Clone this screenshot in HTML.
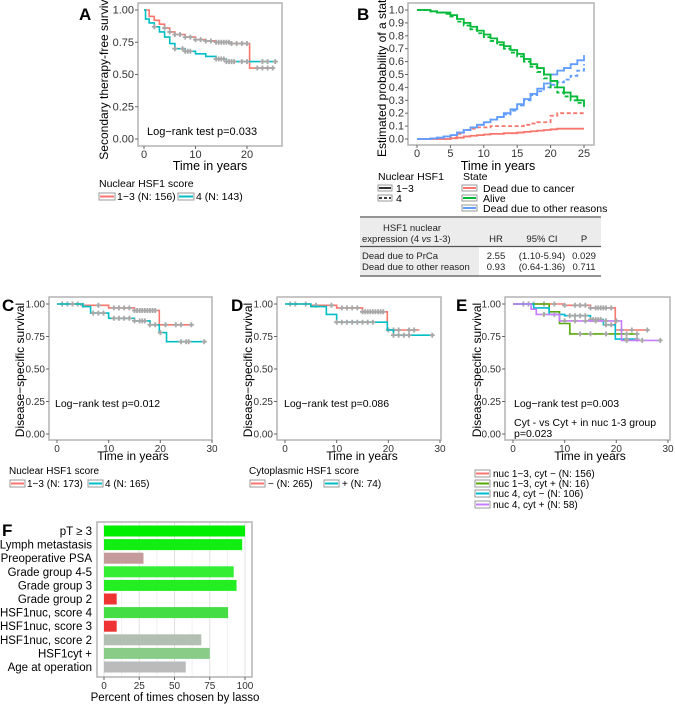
<!DOCTYPE html>
<html><head><meta charset="utf-8">
<style>
body{margin:0;background:#fff;}
svg{display:block;font-family:"Liberation Sans",Arial,sans-serif;}
</style></head>
<body>
<svg id="fig" width="675" height="704" viewBox="0 0 675 704" xmlns="http://www.w3.org/2000/svg"></svg>
<script>
// ---------- DATA ----------
// Panel A
const aRedT=[0,1,2,3,4,5,6,8,10,12,14,17,20.5], aRedS=[1,0.95,0.92,0.89,0.86,0.83,0.81,0.79,0.77,0.76,0.75,0.74,0.55];
const aRedEnd=25, aRedCens=[4,5,6,7,8,9,10,11,12,13,14,14.5,15,15.5,16,16.5,17,18,19,20,22,23,24,25];
const aCyanT=[0,0.3,1,2,3,4,5,6,8,10,12,14,16], aCyanS=[1,0.93,0.9,0.87,0.83,0.79,0.74,0.70,0.68,0.66,0.64,0.62,0.60];
const aCyanEnd=25.5, aCyanCens=[2,6,7.5,8,8.5,9,14,14.5,15,15.5,16,16.5,17,17.5,19,20,23,24,25.5];
// Panel B (yearly values)
const bTimes=[0,1,2,3,4,5,6,7,8,9,10,11,12,13,14,15,16,17,18,19,20,21,22,23,24,25];
const bAliveSolid=[1,1,0.99,0.98,0.98,0.96,0.93,0.90,0.87,0.84,0.81,0.78,0.75,0.72,0.69,0.66,0.62,0.58,0.55,0.50,0.45,0.40,0.36,0.33,0.30,0.27];
const bAliveDash=[1,1,0.99,0.98,0.97,0.95,0.91,0.88,0.85,0.82,0.79,0.76,0.73,0.70,0.67,0.64,0.60,0.56,0.52,0.47,0.40,0.36,0.33,0.30,0.28,0.23];
const bOtherSolid=[0,0,0.005,0.01,0.02,0.03,0.05,0.07,0.09,0.11,0.13,0.15,0.17,0.20,0.23,0.27,0.31,0.35,0.39,0.43,0.50,0.53,0.55,0.58,0.61,0.65];
const bOtherDash=[0,0,0.005,0.01,0.02,0.03,0.05,0.07,0.09,0.11,0.13,0.15,0.17,0.19,0.22,0.26,0.30,0.34,0.37,0.40,0.42,0.44,0.46,0.49,0.53,0.58];
const bCancerSolid=[0,0,0,0,0,0.005,0.01,0.02,0.025,0.03,0.035,0.04,0.04,0.045,0.045,0.05,0.055,0.06,0.065,0.07,0.075,0.08,0.08,0.08,0.08,0.08];
const bCancerDash=[0,0,0,0,0,0.01,0.04,0.07,0.08,0.09,0.09,0.10,0.10,0.10,0.10,0.10,0.11,0.12,0.13,0.13,0.18,0.20,0.20,0.20,0.20,0.20];
const bYTicks=[0,0.1,0.2,0.3,0.4,0.5,0.6,0.7,0.8,0.9,1.0];
const bXTicks=[0,5,10,15,20,25];
// Panel C
const cRedT=[0,5,10,15,19.8], cRedS=[1,0.99,0.97,0.95,0.84], cRedEnd=26, cRedCens=[1,2,4,5,8,11,12,13,14,15,15.5,16,16.5,17,17.5,18,18.5,19,21,23,24,26];
const cCyanT=[0,5,6.5,10,15,18,19.8,21.2], cCyanS=[1,0.98,0.93,0.89,0.87,0.84,0.78,0.71], cCyanEnd=28.5, cCyanCens=[3,7,8,9,11,12,13,14,15,16,16.5,17,18,19,20,24,25,25.5,28.5];
// Panel D
const dRedT=[0,5,10,15,19.8], dRedS=[1,0.99,0.97,0.94,0.80], dRedEnd=26, dRedCens=[1,2,4,6,9,11,12,13,14,15,15.5,16,16.5,17,17.5,18,18.5,19,20,21,22,24,25];
const dCyanT=[0,5,8,10,19.8,21], dCyanS=[1,0.98,0.92,0.86,0.80,0.76], dCyanEnd=28.5, dCyanCens=[10,11,12,13,14,15,16,17,21,22,23,24,28.5];
// Panel E
const eRedT=[0,10,15,19.8], eRedS=[1,0.99,0.97,0.80], eRedEnd=26, eRedCens=[2,4,6,8,10,12,13,14,15,16,16.5,17,17.5,18,19,21,23,26];
const eGreenT=[0,7,9,11], eGreenS=[1,0.94,0.85,0.77], eGreenEnd=24, eGreenCens=[3,13,15,18,22,24];
const eCyanT=[0,4,7,10,15,17.5,19.8], eCyanS=[1,0.97,0.92,0.91,0.88,0.84,0.73], eCyanEnd=24, eCyanCens=[8,11,12,13,14,15,15.5,16,16.5,17,18,19,22,24];
const ePurpleT=[0,3.5,4.5,9,21], ePurpleS=[1,0.96,0.92,0.87,0.72], ePurpleEnd=28.5, ePurpleCens=[6,10,12,14,16,18,20,22,25,28.5];
const survYTicks=[0,0.25,0.5,0.75,1.0];
const survYLabels=["0.00","0.25","0.50","0.75","1.00"];
// Panel F
const fLabels=["pT \u2265 3","Lymph metastasis","Preoperative PSA","Grade group 4-5","Grade group 3","Grade group 2","HSF1nuc, score 4","HSF1nuc, score 3","HSF1nuc, score 2","HSF1cyt +","Age at operation"];
const fValues=[100,98,28,92,94,9,88,9,69,75,58];
const fColors=["#00ee00","#11ee11","#c49a9a","#33ee33","#22ee22","#ee3333","#44dd44","#ee3333","#b3bfb3","#88cc88","#bbbbbb"];
const fXTicks=[0,25,50,75,100];

// ---------- HELPERS ----------
const NS="http://www.w3.org/2000/svg";
const svg=document.getElementById('fig');
function el(tag,attrs,parent){const e=document.createElementNS(NS,tag);for(const k in attrs)e.setAttribute(k,attrs[k]);(parent||svg).appendChild(e);return e;}
function txt(s,x,y,size,anchor,parent,extra){const t=el('text',Object.assign({x:x,y:y,'font-size':size,'text-anchor':anchor||'start',fill:'#000'},extra||{}),parent);t.textContent=s;return t;}
function scale(d0,d1,r0,r1){return v=>r0+(v-d0)*(r1-r0)/(d1-d0);}

function axesBox(g,x0,y0,x1,y1){const r=el('rect',{x:x0,y:y0,width:x1-x0,height:y1-y0,fill:'none',stroke:'#b3b3b3','stroke-width':1.5},g);}

function kmCurve(g,T,S,end,cens,color,sx,sy,name){
  let d='M'+sx(T[0])+','+sy(S[0]);
  for(let i=1;i<T.length;i++){d+=' H'+sx(T[i])+' V'+sy(S[i]);}
  d+=' H'+sx(end);
  const p=el('path',{d:d,fill:'none',stroke:color,'stroke-width':1.6},g);
  
  
  cens.forEach(c=>{let s=S[0];for(let i=0;i<T.length;i++){if(T[i]<=c)s=S[i];}
    const x=sx(c),y=sy(s);
    const m=el('path',{d:'M'+(x-2.5)+','+y+' H'+(x+2.5)+' M'+x+','+(y-2.5)+' V'+(y+2.5),stroke:'#a8a8a8','stroke-width':1.8},g);
    
    
  });
}

function survPanel(opt){
  const g=el('g',{});
  
  
  axesBox(g,opt.bx0,opt.by0,opt.bx1,opt.by1);
  const sx=scale(0,opt.xmax,opt.x0,opt.xAtMax), sy=scale(0,1,opt.yAt0,opt.yAt1);
  survYTicks.forEach((v,i)=>{const y=sy(v);
    el('line',{x1:opt.bx0-3,x2:opt.bx0,y1:y,y2:y,stroke:'#666'},g);
    const t=txt(survYLabels[i],opt.bx0-4,y+3.5,opt.tickSize,'end',g,{fill:'#333'});
    
    });
  opt.xTicks.forEach(v=>{const x=sx(v);
    el('line',{x1:x,x2:x,y1:opt.by1,y2:opt.by1+3,stroke:'#666'},g);
    const t=txt(String(v),x,opt.by1+12,opt.tickSize,'middle',g,{fill:'#333'});
    
    });
  opt.curves.forEach(c=>kmCurve(g,c[0],c[1],c[2],c[3],c[4],sx,sy,c[5]));
  return {g,sx,sy};
}

// ---------- PANEL A ----------
survPanel({name:'panel-a',bx0:138,by0:3,bx1:282,by1:146,x0:144,xmax:20,xAtMax:247,yAt0:139,yAt1:10,tickSize:11,xTicks:[0,10,20],
  curves:[[aRedT,aRedS,aRedEnd,aRedCens,'#f8766d','a-nuc-1-3'],[aCyanT,aCyanS,aCyanEnd,aCyanCens,'#00bfc4','a-nuc-4']]});
// ---------- PANEL C/D/E ----------
const cdeCommon={by0:297,by1:440,yAt0:434,yAt1:304,xmax:30,tickSize:10,xTicks:[0,10,20,30]};
survPanel(Object.assign({name:'panel-c',bx0:49,bx1:212,x0:57,xAtMax:212,
  curves:[[cRedT,cRedS,cRedEnd,cRedCens,'#f8766d','c-nuc-1-3'],[cCyanT,cCyanS,cCyanEnd,cCyanCens,'#00bfc4','c-nuc-4']]},cdeCommon));
survPanel(Object.assign({name:'panel-d',bx0:277,bx1:441,x0:285,xAtMax:440,
  curves:[[dRedT,dRedS,dRedEnd,dRedCens,'#f8766d','d-cyt-neg'],[dCyanT,dCyanS,dCyanEnd,dCyanCens,'#00bfc4','d-cyt-pos']]},cdeCommon));
survPanel(Object.assign({name:'panel-e',bx0:505,bx1:670,x0:513,xAtMax:668,
  curves:[[eRedT,eRedS,eRedEnd,eRedCens,'#f8766d','e-nuc13-cytneg'],[eGreenT,eGreenS,eGreenEnd,eGreenCens,'#59a80a','e-nuc13-cytpos'],[eCyanT,eCyanS,eCyanEnd,eCyanCens,'#00bcd0','e-nuc4-cytneg'],[ePurpleT,ePurpleS,ePurpleEnd,ePurpleCens,'#c77cff','e-nuc4-cytpos']]},cdeCommon));

// ---------- PANEL B ----------
(function(){
  const g=el('g',{});
  
  
  axesBox(g,408,3,594,145);
  const sx=scale(0,25,417,584), sy=scale(0,1,139,10);
  bYTicks.forEach(v=>{const y=sy(v);el('line',{x1:405,x2:408,y1:y,y2:y,stroke:'#666'},g);
    const t=txt(v.toFixed(1),404,y+3.5,11,'end',g,{fill:'#333'});
    
    });
  bXTicks.forEach(v=>{const x=sx(v);el('line',{x1:x,x2:x,y1:145,y2:148,stroke:'#666'},g);
    const t=txt(String(v),x,157,11,'middle',g,{fill:'#333'});
    
    });
  function step(vals,color,dash,name){let d='M'+sx(bTimes[0])+','+sy(vals[0]);
    for(let i=1;i<bTimes.length;i++){d+=' H'+sx(bTimes[i])+' V'+sy(vals[i]);}
    const p=el('path',{d:d,fill:'none',stroke:color,'stroke-width':1.8},g);
    if(dash)p.setAttribute('stroke-dasharray','4,2.5');
    
    }
  step(bCancerSolid,'#f8766d',false,'cancer-nuc-1-3-line');
  step(bCancerDash,'#f8766d',true,'cancer-nuc-4-line');
  step(bOtherSolid,'#619cff',false,'other-nuc-1-3-line');
  step(bOtherDash,'#619cff',true,'other-nuc-4-line');
  step(bAliveSolid,'#00ba38',false,'alive-nuc-1-3-line');
  step(bAliveDash,'#00ba38',true,'alive-nuc-4-line');
})();

// ---------- PANEL F ----------
(function(){
  const g=el('g',{});
  
  
  const sx=scale(0,100,104,245);
  [12.5,37.5,62.5,87.5].forEach(v=>el('line',{x1:sx(v),x2:sx(v),y1:522,y2:677,stroke:'#f0f0f0'},g));
  fXTicks.forEach(v=>el('line',{x1:sx(v),x2:sx(v),y1:522,y2:677,stroke:'#e0e0e0'},g));
  fValues.forEach((v,i)=>{const yc=531+i*13.6;
    const r=el('rect',{x:sx(0),y:yc-5.5,width:sx(v)-sx(0),height:11,fill:fColors[i]},g);
    
    
    const t=txt(fLabels[i],92,yc+4,11.5,'end',g);
    
    });
  axesBox(g,97,522,252,677);
  fXTicks.forEach(v=>{const x=sx(v);el('line',{x1:x,x2:x,y1:677,y2:680,stroke:'#666'},g);
    const t=txt(String(v),x,689,10,'middle',g,{fill:'#333'});
    
    });
})();
</script>
<!-- static text -->
<svg width="675" height="704" style="position:absolute;left:0;top:0" xmlns="http://www.w3.org/2000/svg" font-family="Liberation Sans, Arial, sans-serif">
  <text x="79" y="20" font-size="17" font-weight="bold">A</text>
  <text transform="translate(108,75) rotate(-90)" text-anchor="middle" font-size="12">Secondary therapy-free survival</text>
  <text x="210" y="170" text-anchor="middle" font-size="12.5">Time in years</text>
  <text x="147" y="135" font-size="11">Log−rank test p=0.033</text>
  <text x="99" y="187" font-size="10.5">Nuclear HSF1 score</text>
  <g><rect x="99" y="193" width="16" height="7" fill="none" stroke="#999"/><line x1="100" x2="114" y1="196.5" y2="196.5" stroke="#f8766d" stroke-width="2"/><text x="117" y="200" font-size="10.5">1−3 (N: 156)</text></g>
  <g><rect x="178" y="193" width="16" height="7" fill="none" stroke="#999"/><line x1="179" x2="193" y1="196.5" y2="196.5" stroke="#00bfc4" stroke-width="2"/><text x="196" y="200" font-size="10.5">4 (N: 143)</text></g>

  <text x="357" y="20" font-size="17" font-weight="bold">B</text>
  <text transform="translate(386,75) rotate(-90)" text-anchor="middle" font-size="12">Estimated probability of a state</text>
  <text x="498" y="170" text-anchor="middle" font-size="12.5">Time in years</text>
  <text x="378" y="180" font-size="10.5">Nuclear HSF1</text>
  <g><rect x="378" y="185" width="14" height="6" fill="none" stroke="#999"/><line x1="379" x2="391" y1="188" y2="188" stroke="#000" stroke-width="1.6"/><text x="396" y="192" font-size="10.5">1−3</text></g>
  <g><rect x="378" y="195" width="14" height="6" fill="none" stroke="#999"/><line x1="379" x2="391" y1="198" y2="198" stroke="#000" stroke-width="1.6" stroke-dasharray="3,2"/><text x="396" y="202" font-size="10.5">4</text></g>
  <text x="463" y="180" font-size="10.5">State</text>
  <g><rect x="462" y="185" width="15" height="6" fill="none" stroke="#999"/><line x1="463" x2="476" y1="188" y2="188" stroke="#f8766d" stroke-width="2"/><text x="483" y="192" font-size="10.5">Dead due to cancer</text></g>
  <g><rect x="462" y="195" width="15" height="6" fill="none" stroke="#999"/><line x1="463" x2="476" y1="198" y2="198" stroke="#00ba38" stroke-width="2"/><text x="483" y="202" font-size="10.5">Alive</text></g>
  <g><rect x="462" y="205" width="15" height="6" fill="none" stroke="#999"/><line x1="463" x2="476" y1="208" y2="208" stroke="#619cff" stroke-width="2"/><text x="483" y="212" font-size="10.5">Dead due to other reasons</text></g>

  <g font-size="9.5" fill="#222">
    <rect x="360" y="218" width="241" height="28" fill="#ececec"/>
    <rect x="360" y="247" width="119" height="29" fill="#ececec"/>
    <line x1="360" x2="601" y1="217" y2="217" stroke="#555" stroke-width="1.2"/>
    <line x1="360" x2="601" y1="246.5" y2="246.5" stroke="#555" stroke-width="1.2"/>
    <line x1="360" x2="601" y1="276" y2="276" stroke="#555" stroke-width="1.2"/>
    <text x="412" y="231" text-anchor="middle">HSF1 nuclear</text>
    <text x="362" y="242">expression (4 <tspan font-style="italic">vs</tspan> 1-3)</text>
    <text x="496" y="242" text-anchor="middle">HR</text>
    <text x="542" y="242" text-anchor="middle">95% CI</text>
    <text x="584" y="242" text-anchor="middle">P</text>
    <text x="362" y="259">Dead due to PrCa</text>
    <text x="496" y="259" text-anchor="middle">2.55</text>
    <text x="542" y="259" text-anchor="middle">(1.10-5.94)</text>
    <text x="584" y="259" text-anchor="middle">0.029</text>
    <text x="362" y="270">Dead due to other reason</text>
    <text x="496" y="270" text-anchor="middle">0.93</text>
    <text x="542" y="270" text-anchor="middle">(0.64-1.36)</text>
    <text x="584" y="270" text-anchor="middle">0.711</text>
  </g>

  <text x="2" y="311" font-size="17" font-weight="bold">C</text>
  <text transform="translate(24,370) rotate(-90)" text-anchor="middle" font-size="12">Disease−specific survival</text>
  <text x="133" y="460" text-anchor="middle" font-size="12">Time in years</text>
  <text x="55" y="407" font-size="10.5">Log−rank test p=0.012</text>
  <text x="9" y="474" font-size="10">Nuclear HSF1 score</text>
  <g><rect x="10" y="480" width="15" height="7" fill="none" stroke="#999"/><line x1="11" x2="24" y1="483.5" y2="483.5" stroke="#f8766d" stroke-width="2"/><text x="27" y="487" font-size="10">1−3 (N: 173)</text></g>
  <g><rect x="88" y="480" width="15" height="7" fill="none" stroke="#999"/><line x1="89" x2="102" y1="483.5" y2="483.5" stroke="#00bfc4" stroke-width="2"/><text x="105" y="487" font-size="10">4 (N: 165)</text></g>

  <text x="231" y="311" font-size="17" font-weight="bold">D</text>
  <text transform="translate(252,370) rotate(-90)" text-anchor="middle" font-size="12">Disease−specific survival</text>
  <text x="362" y="460" text-anchor="middle" font-size="12">Time in years</text>
  <text x="284" y="407" font-size="10.5">Log−rank test p=0.086</text>
  <text x="249" y="474" font-size="10">Cytoplasmic HSF1 score</text>
  <g><rect x="250" y="480" width="15" height="7" fill="none" stroke="#999"/><line x1="251" x2="264" y1="483.5" y2="483.5" stroke="#f8766d" stroke-width="2"/><text x="268" y="487" font-size="10">− (N: 265)</text></g>
  <g><rect x="324" y="480" width="15" height="7" fill="none" stroke="#999"/><line x1="325" x2="338" y1="483.5" y2="483.5" stroke="#00bfc4" stroke-width="2"/><text x="342" y="487" font-size="10">+ (N: 74)</text></g>

  <text x="456" y="311" font-size="17" font-weight="bold">E</text>
  <text transform="translate(481,370) rotate(-90)" text-anchor="middle" font-size="12">Disease−specific survival</text>
  <text x="590" y="460" text-anchor="middle" font-size="12">Time in years</text>
  <text x="514" y="407" font-size="10.5">Log−rank test p=0.003</text>
  <text x="514" y="426" font-size="10.5">Cyt - vs Cyt + in nuc 1-3 group</text>
  <text x="514" y="437" font-size="10.5">p=0.023</text>
  <g><rect x="475" y="470" width="15" height="7" fill="none" stroke="#999"/><line x1="476" x2="489" y1="473.5" y2="473.5" stroke="#f8766d" stroke-width="2"/><text x="493" y="477" font-size="10">nuc 1−3, cyt − (N: 156)</text></g>
  <g><rect x="475" y="480" width="15" height="7" fill="none" stroke="#999"/><line x1="476" x2="489" y1="483.5" y2="483.5" stroke="#59a80a" stroke-width="2"/><text x="493" y="487" font-size="10">nuc 1−3, cyt + (N: 16)</text></g>
  <g><rect x="475" y="490" width="15" height="7" fill="none" stroke="#999"/><line x1="476" x2="489" y1="493.5" y2="493.5" stroke="#00bcd0" stroke-width="2"/><text x="493" y="497" font-size="10">nuc 4, cyt − (N: 106)</text></g>
  <g><rect x="475" y="501" width="15" height="7" fill="none" stroke="#999"/><line x1="476" x2="489" y1="504.5" y2="504.5" stroke="#c77cff" stroke-width="2"/><text x="493" y="508" font-size="10">nuc 4, cyt + (N: 58)</text></g>

  <text x="2" y="536" font-size="17" font-weight="bold">F</text>
  <text x="175" y="701" text-anchor="middle" font-size="11.5">Percent of times chosen by lasso</text>
</svg>
</body></html>
